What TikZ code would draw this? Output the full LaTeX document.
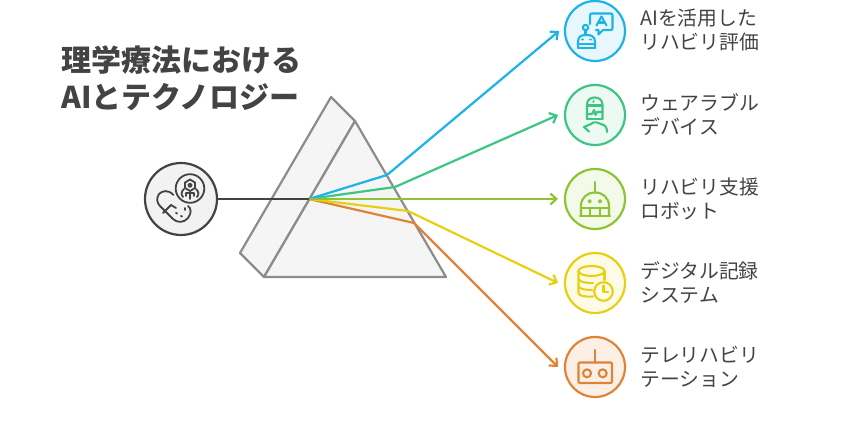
\documentclass[tikz,border=0pt]{standalone}
\usepackage{fontspec}
\setmainfont{Noto Sans CJK JP}
\usetikzlibrary{arrows.meta}
\definecolor{ink}{HTML}{434343}
\definecolor{prismline}{HTML}{8C8C8C}
\definecolor{prismfill}{HTML}{F5F5F5}
\definecolor{srcfill}{HTML}{F2F2F2}
\definecolor{cA}{HTML}{1CB3E6}\definecolor{fA}{HTML}{E8F7FD}
\definecolor{cB}{HTML}{3CC583}\definecolor{fB}{HTML}{ECFAF3}
\definecolor{cC}{HTML}{8CC432}\definecolor{fC}{HTML}{F4FAEA}
\definecolor{cD}{HTML}{E8CF10}\definecolor{fD}{HTML}{FDFBE6}
\definecolor{cE}{HTML}{DF8437}\definecolor{fE}{HTML}{FCF0E6}
\tikzset{
  x=1pt,y=-1pt,
  badge/.style={circle,draw=#1,line width=2.2pt,minimum size=60pt,inner sep=0pt},
  ray/.style={draw=#1,line width=2.2pt,line join=round,-{Straight Barb[length=6pt,width=11pt,line width=2.2pt]}},
  icon/.style={draw=#1,line width=2.1pt,line cap=round,line join=round},
  label/.style={anchor=west,align=left,text=ink,font=\fontsize{19.8}{24}\selectfont,inner sep=0pt},
}
\begin{document}
\begin{tikzpicture}
\useasboundingbox (0,0) rectangle (854,422);
% prism
\draw[prismline,fill=prismfill,line width=2.2pt,line join=round]
  (331,97) -- (355,121) -- (264,277) -- (240,253) -- cycle;
\draw[prismline,fill=prismfill,line width=2.2pt,line join=round]
  (355,121) -- (446,277) -- (264,277) -- cycle;
% title
\node[anchor=west,inner sep=0pt,text=ink,font=\fontsize{30}{37}\bfseries\selectfont,align=left] (title) at (61,78.5) {理学療法における\\AIとテクノロジー};
% badges
\node[badge=ink,fill=srcfill,minimum size=72pt] (src) at (181,199) {};
\node[badge=cA,fill=fA] (nA) at (595,31) {};
\node[badge=cB,fill=fB] (nB) at (595,115) {};
\node[badge=cC,fill=fC] (nC) at (595,199) {};
\node[badge=cD,fill=fD] (nD) at (595,283) {};
\node[badge=cE,fill=fE] (nE) at (595,367) {};
% connector points
\coordinate (o) at (309,199);
\coordinate (bA) at (387,175); \coordinate (eA) at (559,31);
\coordinate (bB) at (395,187); \coordinate (eB) at (558,115);
\coordinate (eC) at (558,199);
\coordinate (bD) at (408,211); \coordinate (eD) at (558,283);
\coordinate (bE) at (414,223); \coordinate (eE) at (558,367);
% connectors
\draw[ray=cE] (o) -- (bE) -- (eE);
\draw[ray=cD] (o) -- (bD) -- (eD);
\draw[ray=cB] (o) -- (bB) -- (eB);
\draw[ray=cA] (o) -- (bA) -- (eA);
\draw[ray=cC] (o) -- (eC);
\draw[draw=ink,line width=2.2pt] (src) -- (o);
% source icon
\begin{scope}[icon=ink,line width=1.8pt]
  \draw (190,188.5) circle (14.3);
  \draw (190,179.5) -- (195,182.5) -- (195,188) -- (190,191) -- (185,188) -- (185,182.5) -- cycle;
  \draw (190,185.3) circle (1.8);
  \draw (190,192) -- (190,199);
  \draw (184,189) .. controls (181,192) and (181,194) .. (183,197);
  \draw (196,189) .. controls (199,192) and (199,194) .. (197,197);
  \draw (186,196) -- (186,193) -- (194,193) -- (194,196);
  \draw (173.5,195) .. controls (168,189) and (162,191) .. (159,194)
        .. controls (156,198) and (157,203) .. (160,206)
        -- (173,219) .. controls (177,223) and (184,223) .. (188,218)
        .. controls (192,213) and (191,208) .. (188,206);
  \draw (171,205) -- (163,213);
  \draw (171,205) -- (176,208);
  \draw (176,213) -- (177,213.5);
  \draw (181,216) -- (182,216.5);
  \draw (185,208) -- (185,210);
\end{scope}
% icon A
\begin{scope}[icon=cA]
  \draw (590,24) -- (590,15.5) .. controls (590,14) and (591,13.5) .. (592,13.5) -- (611,13.5) .. controls (612,13.5) and (612.5,14) .. (612.5,15.5) -- (612.5,28) .. controls (612.5,29.5) and (612,30) .. (611,30) -- (603,30) -- (598.5,34.5) -- (598.5,30) -- (596,30);
  \draw (596.5,25.5) -- (601.5,16.5) -- (606.5,25.5);
  \draw (598.5,22.5) -- (604.5,22.5);
  \draw (585.5,27.5) circle (2.7);
  \draw (585.5,30.5) -- (585.5,35);
  \draw (578,47.5) -- (578,42) .. controls (578,37) and (581,35) .. (585,35) -- (587,35) .. controls (592,35) and (595,37) .. (595,42) -- (595,47.5);
  \draw (578,44) -- (595,44);
  \draw (578,48) -- (595,48);
  \draw (582.5,39.5) -- (582.5,39.6);
  \draw (590.5,39.5) -- (590.5,39.6);
\end{scope}
% icon B
\begin{scope}[icon=cB]
  \draw (587,119) -- (587,105) .. controls (587,100) and (590,97.5) .. (594.5,97.5) .. controls (599,97.5) and (602.5,100) .. (602.5,105) -- (602.5,119);
  \draw (587,119) -- (602.5,119);
  \draw (587,105.5) -- (602.5,105.5);
  \draw (593.5,101.5) -- (593.6,101.5);
  \draw (587,114) -- (592,114) -- (594,110) -- (595.5,115) -- (597,112) -- (602.5,112);
  \draw (591,124) -- (584,127) -- (589,131.5);
  \draw (591,124) .. controls (595,120.5) and (598,123) .. (601,124) .. controls (606,125) and (607,128) .. (607,132);
\end{scope}
% icon C
\begin{scope}[icon=cC]
  \draw (595,182) -- (595,192.5);
  \draw (581,216) -- (581,206) .. controls (581,198) and (587,192.5) .. (595,192.5) .. controls (603,192.5) and (609,198) .. (609,206) -- (609,216);
  \draw (580,216) -- (610,216);
  \draw (581,208) -- (609,208);
  \draw (590,208) -- (590,216);
  \draw (600,208) -- (600,216);
  \draw[line width=1.4pt] (589.7,201.3) circle (1.5);
  \draw[line width=1.4pt] (600,201.3) circle (1.5);
\end{scope}
% icon D
\begin{scope}[icon=cD]
  \draw (591.5,271) ellipse (13 and 5);
  \draw (578.5,271) -- (578.5,293) .. controls (579,296) and (585,297) .. (593,296.5);
  \draw (604.5,271) -- (604.5,280);
  \draw (578.5,279) .. controls (580,282) and (585,283) .. (593,283);
  \draw (578.5,286.5) .. controls (580,289) and (585,290) .. (592,290);
  \draw (603.5,291.5) circle (9.3);
  \draw (603.5,285.5) -- (603.5,292) -- (608,292);
\end{scope}
% icon E
\begin{scope}[icon=cE]
  \draw (595,350) -- (595,362.5);
  \draw[rounded corners=1pt] (578.5,362.5) rectangle (612,383);
  \draw (587,373.3) circle (4);
  \draw (602.7,373.3) circle (4);
\end{scope}
% labels
\node[label] (lA) at (640,30.5) {AIを活用した\\リハビリ評価};
\node[label] (lB) at (640,114.5) {ウェアラブル\\デバイス};
\node[label] (lC) at (640,198.5) {リハビリ支援\\ロボット};
\node[label] (lD) at (640,282.5) {デジタル記録\\システム};
\node[label] (lE) at (640,366.5) {テレリハビリ\\テーション};
\end{tikzpicture}
\end{document}
